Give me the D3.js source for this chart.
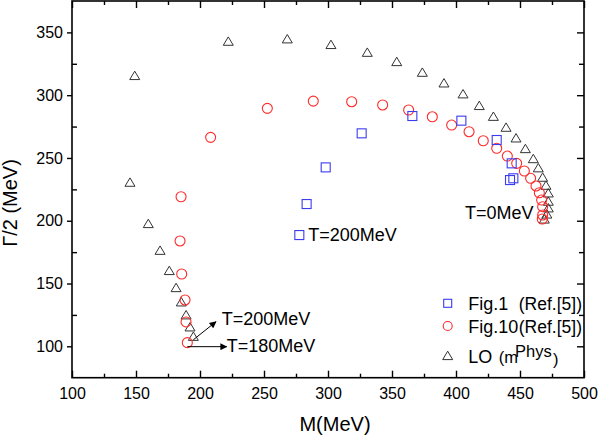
<!DOCTYPE html>
<html><head><meta charset="utf-8">
<script src="https://cdn.jsdelivr.net/npm/d3@7"></script>
<style>body{margin:0;background:#fff}svg{display:block}text{font-family:"Liberation Sans",Arial,sans-serif}</style>
</head><body><svg id="c" width="598" height="435"></svg>
<script>
// Fig.1 (Ref.[5]) squares: [M, Gamma/2]
const fig1M = [277.6, 283.3, 298.2, 326.3, 365.9, 404.2, 431.8, 443.5, 444.8, 442.2];
const fig1G = [188.6, 213.3, 242.5, 269.6, 283.4, 279.7, 264.3, 245.7, 233.8, 232.4];
// Fig.10 (Ref.[5]) circles
const fig10M = [190.1, 189.1, 188.3, 185.7, 184.4, 185.2, 208.3, 252.6, 288.5, 318.5, 342.7, 363.0, 381.5, 396.6, 410.2, 421.3, 431.8, 440.1, 447.4, 453.4, 458.3, 462.5, 465.1, 466.9, 467.7, 467.7, 467.4];
const fig10G = [102.9, 119.4, 136.9, 157.6, 183.9, 219.1, 266.4, 289.5, 295.3, 294.8, 292.2, 288.2, 282.8, 276.2, 270.9, 263.7, 257.7, 251.5, 245.7, 239.6, 233.8, 227.7, 222.3, 216.5, 211.2, 204.6, 201.4];
// LO (m^Phys) triangles
const loM = [194.8, 192.2, 189.1, 185.4, 181.3, 176.0, 168.8, 159.6, 145.3, 149.0, 222.1, 268.2, 302.3, 330.7, 353.7, 373.7, 390.6, 405.5, 418.2, 429.2, 439.1, 446.9, 454.2, 460.4, 464.3, 467.7, 470.3, 472.1, 472.1, 472.1, 471.0, 469.0];
const loG = [107.6, 115.1, 124.7, 135.0, 146.4, 160.0, 176.1, 197.4, 230.3, 315.3, 342.6, 344.5, 340.0, 333.8, 326.4, 317.9, 309.4, 300.7, 291.4, 282.8, 274.1, 265.6, 257.1, 249.1, 241.8, 234.3, 227.9, 221.8, 215.2, 209.9, 205.0, 201.0];
const xTicks = [100, 150, 200, 250, 300, 350, 400, 450, 500];
const xMinor = [125, 175, 225, 275, 325, 375, 425, 475];
const yTicks = [100, 150, 200, 250, 300, 350];
const yMinor = [125, 175, 225, 275, 325];
const xDomain = [100, 500];
const yDomain = [75, 375];

const svg = d3.select("#c");
const L = 72, R = 584, T = 1, B = 377.7;
const x = d3.scaleLinear().domain(xDomain).range([L, R]);
const y = d3.scaleLinear().domain(yDomain).range([B, T]);

const defs = svg.append("defs");
defs.append("marker").attr("id","ah").attr("viewBox","0 0 10 10").attr("refX",9).attr("refY",5)
  .attr("markerWidth",9).attr("markerHeight",7).attr("markerUnits","userSpaceOnUse").attr("orient","auto")
  .append("path").attr("d","M0,0L10,5L0,10z").attr("fill","#000");

// axes
const fs = 16;
function styleAxis(g){ g.select(".domain").remove(); g.selectAll("line").attr("stroke","#000").attr("stroke-width",1.4); g.selectAll("text").attr("font-size",fs).attr("fill","#000").attr("font-family","Liberation Sans, Arial, sans-serif"); }
svg.append("g").attr("transform",`translate(0,${B})`).call(d3.axisBottom(x).tickValues(xTicks).tickSize(-7).tickPadding(10).tickFormat(d3.format("d"))).call(styleAxis);
svg.append("g").attr("transform",`translate(0,${B})`).call(d3.axisBottom(x).tickValues(xMinor).tickSize(-4).tickFormat("")).call(styleAxis);
svg.append("g").attr("transform",`translate(0,${T})`).call(d3.axisTop(x).tickValues(xTicks).tickSize(-7).tickFormat("")).call(styleAxis);
svg.append("g").attr("transform",`translate(0,${T})`).call(d3.axisTop(x).tickValues(xMinor).tickSize(-4).tickFormat("")).call(styleAxis);
svg.append("g").attr("transform",`translate(${L},0)`).call(d3.axisLeft(y).tickValues(yTicks).tickSize(5).tickPadding(4).tickFormat(d3.format("d"))).call(styleAxis);
svg.append("g").attr("transform",`translate(${L},0)`).call(d3.axisLeft(y).tickValues(yMinor).tickSize(-5).tickFormat("")).call(styleAxis);
svg.append("g").attr("transform",`translate(${R},0)`).call(d3.axisRight(y).tickValues(yTicks).tickSize(-7).tickFormat("")).call(styleAxis);
svg.append("g").attr("transform",`translate(${R},0)`).call(d3.axisRight(y).tickValues(yMinor).tickSize(-5).tickFormat("")).call(styleAxis);
svg.append("rect").attr("x",L).attr("y",T).attr("width",R-L).attr("height",B-T).attr("fill","none").attr("stroke","#000").attr("stroke-width",1.6);

// markers
const triPath = "M0,-4.8L5,3.6L-5,3.6Z";
const cLO = "#333", cF10 = "#ff2a2a", cF1 = "#3b3bf0";
svg.append("g").selectAll("path").data(d3.range(loM.length)).join("path")
  .attr("d", triPath).attr("transform", i => `translate(${x(loM[i])},${y(loG[i])})`)
  .attr("fill","none").attr("stroke",cLO).attr("stroke-width",1);
svg.append("g").selectAll("circle").data(d3.range(fig10M.length)).join("circle")
  .attr("cx", i => x(fig10M[i])).attr("cy", i => y(fig10G[i])).attr("r",5)
  .attr("fill","none").attr("stroke",cF10).attr("stroke-width",1.1);
svg.append("g").selectAll("rect").data(d3.range(fig1M.length)).join("rect")
  .attr("x", i => x(fig1M[i]) - 4.5).attr("y", i => y(fig1G[i]) - 4.5).attr("width",9).attr("height",9)
  .attr("fill","none").attr("stroke",cF1).attr("stroke-width",1.1);

// annotations
const af = 18;
function txt(s, px, py, size){ return svg.append("text").attr("x",px).attr("y",py).attr("font-size",size||af).attr("fill","#000").text(s); }
txt("T=0MeV", 465, 219);
txt("T=200MeV", x(fig1M[0]) + 9, 241);
txt("T=200MeV", 221.7, 325);
txt("T=180MeV", 226.7, 351.7);
svg.append("line").attr("x1", x(loM[0])).attr("y1", y(loG[0])+3).attr("x2",216).attr("y2",321.7)
  .attr("stroke","#000").attr("stroke-width",1).attr("marker-end","url(#ah)");
svg.append("line").attr("x1", x(fig10M[0])).attr("y1", y(fig10G[0])+4).attr("x2",226.7).attr("y2",y(fig10G[0])+4)
  .attr("stroke","#000").attr("stroke-width",1).attr("marker-end","url(#ah)");

// legend
const lx = 447.7;
svg.append("rect").attr("x",lx-4).attr("y",303.3-4).attr("width",8).attr("height",8).attr("fill","none").attr("stroke",cF1).attr("stroke-width",1.1);
svg.append("circle").attr("cx",lx).attr("cy",326).attr("r",4.5).attr("fill","none").attr("stroke",cF10).attr("stroke-width",1.1);
svg.append("path").attr("d",triPath).attr("transform",`translate(${lx},356)`).attr("fill","none").attr("stroke",cLO).attr("stroke-width",1);
txt("Fig.1", 468.3, 310);
txt("(Ref.[5])", 582, 310, 17.5).attr("text-anchor","end");
txt("Fig.10", 468.3, 332.7);
txt("(Ref.[5])", 582, 332.7, 17.5).attr("text-anchor","end");
txt("LO", 468.3, 363.3);
txt("(m", 498.7, 363.3, 16.5);
txt("Phys", 515, 356.5, 16.5);
txt(")", 553, 365, 16.5);

// axis titles
txt("M(MeV)", 335, 431, 20).attr("text-anchor","middle");
svg.append("text").attr("transform","translate(17,203) rotate(-90)").attr("text-anchor","middle")
  .attr("font-size",20).attr("fill","#000").text("Γ/2 (MeV)");
</script></body></html>
